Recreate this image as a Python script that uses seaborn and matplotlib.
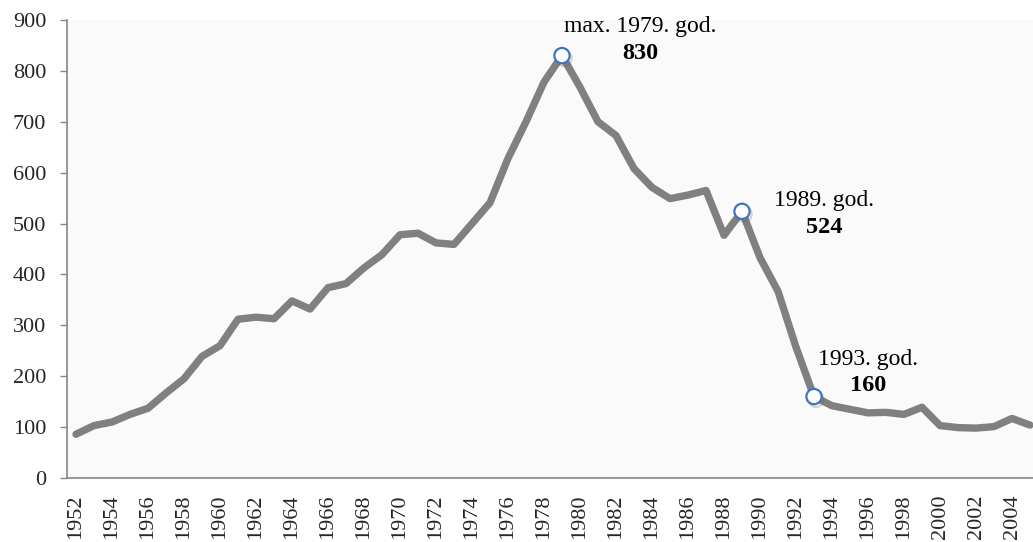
import numpy as np
import pandas as pd
import matplotlib
matplotlib.use("Agg")
import matplotlib.pyplot as plt
import matplotlib.patheffects as pe
import seaborn as sns

# Godine (kategorije na x osi)
godine = list(range(1952, 2006))

# Vrijednosti procitane s grafikona
vrijednosti = [86, 103, 110, 125, 137, 167, 195, 239, 260, 312,
               316, 313, 348, 332, 374, 382, 413, 439, 478, 481,
               462, 459, 500, 541, 628, 700, 778, 830, 768, 700,
               673, 608, 571, 549, 556, 565, 477, 524, 433, 367,
               257, 160, 142, 135, 128, 129, 125, 139, 103, 99,
               98, 101, 117, 104]

# Istaknute tocke i njihovi natpisi
istaknute_godine = [1979, 1989, 1993]
natpisi = ["max. 1979. god.", "1989. god.", "1993. god."]
# pomak natpisa od tocke (pikseli): prvi red, drugi red
pomaci = [((78, 29), (78, 2)), ((82, 11), (82, -16)), ((54, 37), (54, 11))]

y_oznake = list(range(0, 1000, 100))

veri = pd.DataFrame({"godina": godine, "vrijednost": vrijednosti})
veri["poz"] = np.arange(len(veri))

sns.set_style("white")
plt.rcParams["font.family"] = ["Liberation Serif", "DejaVu Serif"]

fig = plt.figure(figsize=(10.33, 5.42), dpi=100)
ax = fig.add_axes([67 / 1033, 64 / 542, 972 / 1033, 458 / 542])
ax.set_facecolor("#FAFAFA")

sns.lineplot(data=veri, x="poz", y="vrijednost", ax=ax, color="#808080",
             linewidth=5.3, solid_capstyle="round", solid_joinstyle="round")

ist = veri[veri["godina"].isin(istaknute_godine)]
ax.plot(ist["poz"], ist["vrijednost"], linestyle="none", marker="o",
        markersize=11, markerfacecolor="white", markeredgecolor="#3E74C2",
        markeredgewidth=1.6, zorder=5,
        path_effects=[pe.SimpleLineShadow(offset=(1.5, -2), alpha=0.25, shadow_color="#606060"),
                      pe.Normal()])

for (i, red), natpis, (p1, p2) in zip(ist.iterrows(), natpisi, pomaci):
    ax.annotate(natpis, xy=(red["poz"], red["vrijednost"]), xytext=p1,
                textcoords="offset pixels", ha="center", va="center",
                fontsize=17, color="black")
    ax.annotate(str(int(red["vrijednost"])), xy=(red["poz"], red["vrijednost"]),
                xytext=p2, textcoords="offset pixels", ha="center",
                va="center", fontsize=17.5, fontweight="bold", color="black")

ax.set_xlim(-0.5, len(godine) - 0.5)
ax.set_ylim(0, 900)
ax.set_yticks(y_oznake)
ax.set_yticklabels([str(v) for v in y_oznake])

# granice kategorija kao glavne crtice, natpisi svake druge godine
ax.set_xticks(np.arange(-0.5, len(godine), 1))
ax.set_xticklabels([])
ax.set_xticks(veri["poz"][::2], minor=True)
ax.set_xticklabels([str(g) for g in godine[::2]], minor=True, rotation=90)

ax.tick_params(axis="x", which="major", length=5, width=1, color="#868686", direction="out")
ax.tick_params(axis="x", which="minor", length=0, pad=12, labelsize=16)
ax.tick_params(axis="y", length=5, width=1, color="#868686", direction="out",
               pad=10, labelsize=16, left=True)

ax.set_xlabel("")
ax.set_ylabel("")
for s in ["top", "right"]:
    ax.spines[s].set_visible(False)
for s in ["left", "bottom"]:
    ax.spines[s].set_color("#868686")
    ax.spines[s].set_linewidth(1.2)
ax.grid(False)

fig.savefig("out.png", dpi=100)
